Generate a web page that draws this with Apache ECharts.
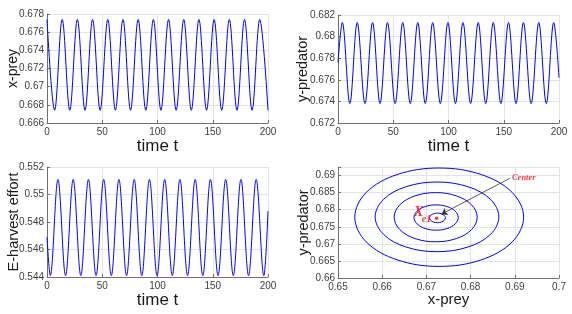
<!DOCTYPE html>
<html><head><meta charset="utf-8">
<script src="https://cdn.jsdelivr.net/npm/echarts@6/dist/echarts.min.js"></script>
<style>html,body{margin:0;padding:0;background:#fff}#c{width:572px;height:314px}</style>
</head><body><div id="c"></div>
<script>
// ---- time series (values read at extrema) ----
const preyT = [0, 6.9, 13.75, 20.6, 27.5, 34.4, 41.25, 48.1, 55.0, 61.9, 68.75, 75.6, 82.5, 89.4, 96.25, 103.1, 110.0, 116.9, 123.75, 130.6, 137.5, 144.4, 151.25, 158.1, 165.0, 171.9, 178.75, 185.6, 192.5, 200];
const preyX = [0.6774, 0.6674, 0.6774, 0.6674, 0.6774, 0.6674, 0.6774, 0.6674, 0.6774, 0.6674, 0.6774, 0.6674, 0.6774, 0.6674, 0.6774, 0.6674, 0.6774, 0.6674, 0.6774, 0.6674, 0.6774, 0.6674, 0.6774, 0.6674, 0.6774, 0.6674, 0.6774, 0.6674, 0.6774, 0.6674];

const predT = [0, 3.9, 10.7, 17.4, 24.4, 31.3, 38.0, 44.8, 51.7, 58.6, 65.4, 72.2, 79.0, 85.7, 92.6, 99.5, 106.3, 113.1, 120.0, 126.9, 133.7, 140.5, 147.4, 154.3, 161.1, 167.8, 174.8, 181.7, 188.5, 195.2, 200];
const predY = [0.6776, 0.6813, 0.6738, 0.6813, 0.6738, 0.6813, 0.6738, 0.6813, 0.6738, 0.6813, 0.6738, 0.6813, 0.6738, 0.6813, 0.6738, 0.6813, 0.6738, 0.6813, 0.6738, 0.6813, 0.6738, 0.6813, 0.6738, 0.6813, 0.6738, 0.6813, 0.6738, 0.6813, 0.6738, 0.6813, 0.6762];

const effT = [0, 3.0, 9.9, 16.8, 23.7, 30.6, 37.5, 44.4, 51.3, 58.2, 65.1, 72.0, 78.9, 85.8, 92.7, 99.6, 106.5, 113.4, 120.3, 127.2, 134.1, 141.0, 147.9, 154.8, 161.7, 168.6, 175.5, 182.4, 189.3, 196.2, 200];
const effE = [0.5469, 0.5441, 0.5511, 0.5441, 0.5511, 0.5441, 0.5511, 0.5441, 0.5511, 0.5441, 0.5511, 0.5441, 0.5511, 0.5441, 0.5511, 0.5441, 0.5511, 0.5441, 0.5511, 0.5441, 0.5511, 0.5441, 0.5511, 0.5441, 0.5511, 0.5441, 0.5511, 0.5441, 0.5511, 0.5441, 0.5488];

// ---- phase portrait orbits (points read around each closed curve) ----
const orbit1X = [0.6920, 0.68944, 0.68245, 0.6729, 0.66335, 0.65636, 0.6538, 0.65636, 0.66335, 0.6729, 0.68245, 0.68944];
const orbit1Y = [0.6778, 0.6850, 0.69027, 0.6922, 0.69027, 0.6850, 0.6778, 0.6706, 0.66533, 0.6634, 0.66533, 0.6706];
const orbit2X = [0.6864, 0.68452, 0.6794, 0.6724, 0.6654, 0.66028, 0.6584, 0.66028, 0.6654, 0.6724, 0.6794, 0.68452];
const orbit2Y = [0.6779, 0.6830, 0.68673, 0.6881, 0.68673, 0.6830, 0.6779, 0.6728, 0.66907, 0.6677, 0.66907, 0.6728];
const orbit3X = [0.6815, 0.68024, 0.6768, 0.6721, 0.6674, 0.66396, 0.6627, 0.66396, 0.6674, 0.6721, 0.6768, 0.68024];
const orbit3Y = [0.6778, 0.6814, 0.68404, 0.6850, 0.68404, 0.6814, 0.6778, 0.6742, 0.67156, 0.6706, 0.67156, 0.6742];
const orbit4X = [0.6772, 0.67653, 0.6747, 0.6722, 0.6697, 0.66787, 0.6672, 0.66787, 0.6697, 0.6722, 0.6747, 0.67653];
const orbit4Y = [0.6777, 0.67955, 0.6809, 0.6814, 0.6809, 0.67955, 0.6777, 0.67585, 0.6745, 0.6740, 0.6745, 0.67585];
const orbit5X = [0.6743, 0.67406, 0.6734, 0.6725, 0.6716, 0.67094, 0.6707, 0.67094, 0.6716, 0.6725, 0.6734, 0.67406];
const orbit5Y = [0.6776, 0.6783, 0.67881, 0.6790, 0.67881, 0.6783, 0.6776, 0.6769, 0.67639, 0.6762, 0.67639, 0.6769];

// ---- annotation ----
const equilibrium = [0.6723, 0.6775];
const arrowFrom = [0.6889, 0.6892];
const arrowTo = [0.6734, 0.6787];

// ---- axis ticks ----
const timeTicks = { min: 0, max: 200, step: 50 };
const preyTicks = { min: 0.666, max: 0.678, step: 0.002 };
const predTicks = { min: 0.672, max: 0.682, step: 0.002 };
const effTicks = { min: 0.544, max: 0.552, step: 0.002 };
const phaseXTicks = { min: 0.65, max: 0.70, step: 0.01 };
const phaseYTicks = { min: 0.66, max: 0.6925, step: 0.005 };

const zip = (a, b) => a.map((v, i) => [v, b[i]]);

const FONT = 'Liberation Sans';
const AXC = '#707070';
const BLUE = '#0000ff';
const SM = 0.36;
function fmt(step) {
  return v => {
    const r = v / step;
    if (Math.abs(r - Math.round(r)) > 1e-6) return '';
    return String(parseFloat(v.toFixed(4)));
  };
}
function axis(kind, gi, t, name, nameGap, nameSize) {
  return {
    type: 'value', gridIndex: gi, min: t.min, max: t.max, interval: t.step,
    name: name, nameLocation: 'middle', nameGap: nameGap, nameMoveOverlap: false,
    nameTextStyle: { color: '#1a1a1a', fontSize: nameSize, fontFamily: FONT },
    axisLine: { show: true, onZero: false, lineStyle: { color: AXC, width: 1 } },
    axisTick: { show: true, inside: true, length: 3, lineStyle: { color: AXC } },
    splitLine: { show: true, lineStyle: { color: '#e4e4e4', width: 1 } },
    axisLabel: { color: '#404040', fontSize: 10, fontFamily: FONT, margin: kind === 'x' ? 4 : 3, formatter: fmt(t.step) }
  };
}
function ts(xi, data) {
  return { type: 'line', xAxisIndex: xi, yAxisIndex: xi, data: data, smooth: SM, showSymbol: false, symbol: 'none',
    lineStyle: { color: BLUE, width: 1 }, silent: true };
}
function orbit(xs, ys) {
  const pts = zip(xs, ys);
  return {
    type: 'custom', xAxisIndex: 3, yAxisIndex: 3, data: pts, silent: true,
    renderItem: (params, api) => {
      if (params.dataIndex !== 0) return null;
      return {
        type: 'polygon',
        shape: { points: pts.map(p => api.coord(p)), smooth: SM },
        style: { fill: 'none', stroke: BLUE, lineWidth: 1 }
      };
    }
  };
}
const serif = 'Liberation Serif';
const option = {
  animation: false,
  backgroundColor: '#ffffff',
  grid: [
    { left: 47, top: 14, width: 221, height: 109 },
    { left: 338, top: 15, width: 221, height: 108 },
    { left: 47, top: 167, width: 221, height: 110 },
    { left: 338, top: 167, width: 221, height: 111 }
  ],
  xAxis: [
    axis('x', 0, timeTicks, 'time t', 15, 17),
    axis('x', 1, timeTicks, 'time t', 15, 17),
    axis('x', 2, timeTicks, 'time t', 15, 17),
    axis('x', 3, phaseXTicks, 'x-prey', 14, 15)
  ],
  yAxis: [
    axis('y', 0, preyTicks, 'x-prey', 27, 14),
    axis('y', 1, predTicks, 'y-predator', 27.5, 14.5),
    axis('y', 2, effTicks, 'E-harvest effort', 26, 14.5),
    axis('y', 3, phaseYTicks, 'y-predator', 27, 14.5)
  ],
  series: [
    ts(0, zip(preyT, preyX)),
    ts(1, zip(predT, predY)),
    ts(2, zip(effT, effE)),
    orbit(orbit1X, orbit1Y),
    orbit(orbit2X, orbit2Y),
    orbit(orbit3X, orbit3Y),
    orbit(orbit4X, orbit4Y),
    orbit(orbit5X, orbit5Y),
    {
      type: 'lines', coordinateSystem: 'cartesian2d', xAxisIndex: 3, yAxisIndex: 3,
      data: [{ coords: [arrowFrom, arrowTo] }],
      lineStyle: { color: '#333333', width: 0.8, opacity: 1 },
      symbol: ['none', 'arrow'], symbolSize: 6, silent: true
    },
    {
      type: 'scatter', xAxisIndex: 3, yAxisIndex: 3, data: [equilibrium],
      symbolSize: 3.5, itemStyle: { color: '#ff0000' }, silent: true,
      label: { show: true, position: 'inside', offset: [-18, -6], formatter: 'X',
        color: '#ff0000', fontFamily: serif, fontStyle: 'italic', fontWeight: 'bold', fontSize: 14 }
    },
    {
      type: 'scatter', xAxisIndex: 3, yAxisIndex: 3, data: [equilibrium],
      symbolSize: 0, silent: true,
      label: { show: true, position: 'inside', offset: [-10, 1.5], formatter: 'e1',
        color: '#ff0000', fontFamily: serif, fontStyle: 'italic', fontWeight: 'bold', fontSize: 10 }
    },
    {
      type: 'scatter', xAxisIndex: 3, yAxisIndex: 3, data: [arrowFrom],
      symbolSize: 0, silent: true,
      label: { show: true, position: 'right', distance: 2, formatter: 'Center',
        color: '#ff0000', fontFamily: serif, fontStyle: 'italic', fontWeight: 'bold', fontSize: 8.5 }
    }
  ]
};
const chart = echarts.init(document.getElementById('c'), null, { renderer: 'canvas' });
chart.setOption(option);
</script>
</body></html>
